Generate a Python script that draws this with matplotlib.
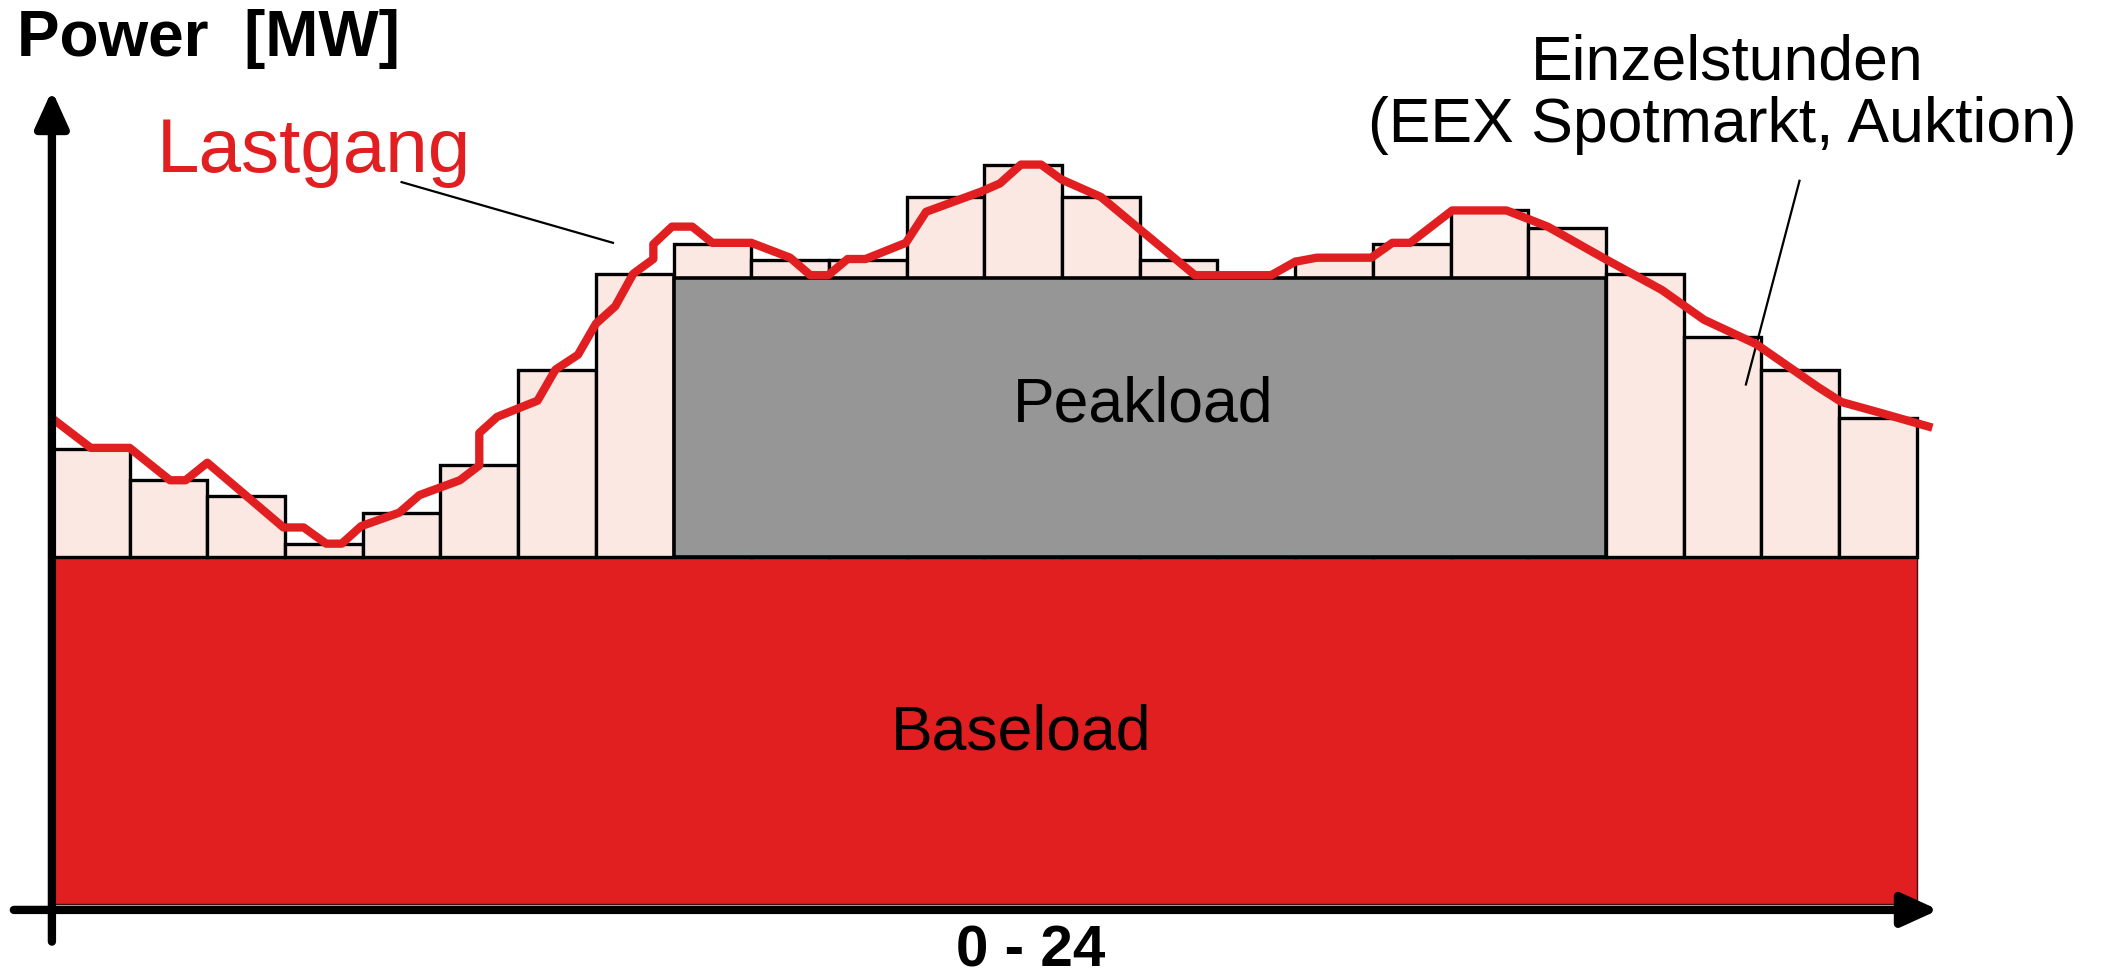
import numpy as np
import matplotlib.pyplot as plt

plt.rcParams['font.family'] = ['Liberation Sans', 'DejaVu Sans']

stunden = np.arange(24)
einzelstunden = [337, 314, 302, 267, 290, 325, 396, 467, 489, 477, 477, 524,
                 548, 524, 477, 464, 478, 489, 514, 501, 467, 420, 396, 360]
baseload = 257
peakload = 464
peak_von, peak_bis = 8, 20

lastgang_h = [0, 0.5, 1.0, 1.52, 1.72, 2.0, 2.98, 3.24, 3.53, 3.73, 3.98, 4.47,
              4.73, 5.25, 5.5, 5.5, 5.73, 6.25, 6.48, 6.77, 7.0, 7.25, 7.48, 7.74,
              7.74, 7.98, 8.24, 8.5, 9.0, 9.5, 9.76, 9.99, 10.24, 10.47, 10.99,
              11.25, 11.96, 12.2, 12.47, 12.73, 12.99, 13.5, 14.71, 15.69, 16.0,
              16.28, 16.98, 17.25, 17.48, 18.02, 18.72, 19.25, 19.99, 20.72,
              21.26, 21.93, 22.73, 23.03, 23.53, 24.2]
lastgang_p = [360, 338, 338, 314, 314, 327, 279, 279, 267, 267, 280, 290,
              303, 314, 325, 349, 361, 373, 396, 407, 430, 443, 467, 478,
              489, 502, 502, 490, 490, 479, 466, 466, 478, 478, 490,
              513, 528, 534, 548, 548, 537, 524, 466, 466, 476,
              479, 479, 490, 490, 514, 514, 502, 478, 455,
              433, 415, 383, 372, 364, 353]

rot = '#E11F21'

fig = plt.figure(figsize=(21.15, 9.74), dpi=100)
ax = fig.add_axes([0, 0, 1, 1])
ax.set_xlim(-0.668, 26.55)
ax.set_ylim(-52, 670)
ax.axis('off')

# Baseload
ax.bar(0, baseload, width=24, align='edge', color=rot, edgecolor='#401010',
       lw=1, zorder=1)
# Einzelstunden
ax.bar(stunden, np.array(einzelstunden) - baseload, bottom=baseload, width=1,
       align='edge', color='#FCE8E2', edgecolor='black', lw=2.4, zorder=2)
# Peakload
ax.bar(peak_von, peakload - baseload, bottom=baseload, width=peak_bis - peak_von,
       align='edge', color='#969696', edgecolor='black', lw=2.6, zorder=3)

# Lastgang
ax.plot(lastgang_h, lastgang_p, color=rot, lw=6, zorder=6,
        solid_joinstyle='round', solid_capstyle='butt')

# Achsen mit Pfeilen
pfeil = dict(arrowstyle='-|>,head_length=0.55,head_width=0.25', lw=6,
             color='black', mutation_scale=40, shrinkA=0, shrinkB=0)
ax.annotate('', xy=(0, 603), xytext=(0, -28), arrowprops=pfeil, zorder=7)
ax.annotate('', xy=(24.28, -4.5), xytext=(-0.49, -4.5), arrowprops=pfeil,
            zorder=7)

# Hinweislinien
ax.plot([4.5, 7.22], [535, 490], color='black', lw=1.6, zorder=5)
ax.plot([22.49, 21.8], [536, 385], color='black', lw=1.6, zorder=5)

# Beschriftungen
ax.text(-0.45, 641, 'Power  [MW]', fontsize=46, fontweight='bold',
        ha='left', va='center')
ax.text(3.37, 557, 'Lastgang', fontsize=55, color=rot, ha='center', va='center')
ax.text(14.04, 370, 'Peakload', fontsize=45, ha='center', va='center', zorder=8)
ax.text(12.48, 127, 'Baseload', fontsize=45, ha='center', va='center', zorder=8)
ax.text(21.56, 623, 'Einzelstunden', fontsize=45, ha='center', va='center')
ax.text(21.5, 577, '(EEX Spotmarkt, Auktion)', fontsize=45, ha='center',
        va='center')
ax.text(12.59, -35, '0 - 24', fontsize=42, fontweight='bold', ha='center',
        va='center')

fig.savefig('out.png', dpi=100)
